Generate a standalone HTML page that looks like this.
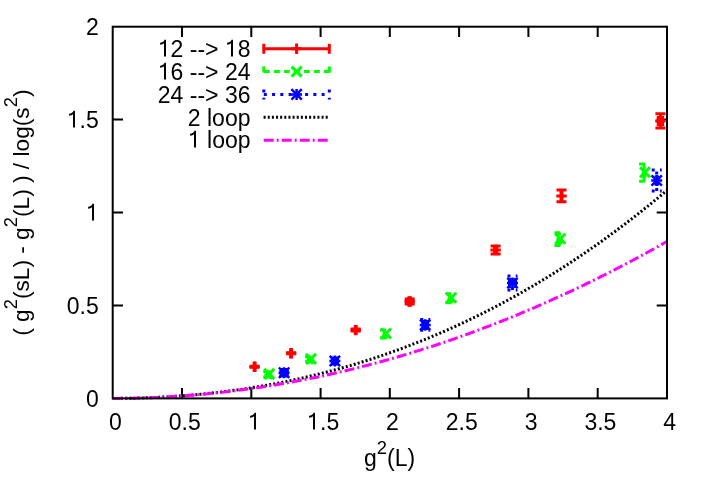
<!DOCTYPE html>
<html><head><meta charset="utf-8"><title>plot</title>
<style>
html,body{margin:0;padding:0;background:#fff;}
body{width:708px;height:495px;overflow:hidden;}
svg{display:block;will-change:transform;}
text{font-family:"Liberation Sans",sans-serif;fill:#000;}
.o{fill:none;}
</style></head><body>
<svg width="708" height="495" viewBox="0 0 708 495">
<rect x="0" y="0" width="708" height="495" fill="#fff"/>

<g stroke="#000" stroke-width="2" fill="none">
<path d="M182.0 398.4V388.1 M182.0 26.7V37.0 M251.3 398.4V388.1 M251.3 26.7V37.0 M320.6 398.4V388.1 M320.6 26.7V37.0 M389.8 398.4V388.1 M389.8 26.7V37.0 M459.1 398.4V388.1 M459.1 26.7V37.0 M528.4 398.4V388.1 M528.4 26.7V37.0 M597.7 398.4V388.1 M597.7 26.7V37.0 M112.7 305.5H123.0 M667.0 305.5H656.7 M112.7 212.5H123.0 M667.0 212.5H656.7 M112.7 119.6H123.0 M667.0 119.6H656.7"/>
</g>
<text x="115.4" y="430" font-size="23" text-anchor="middle">0</text>
<text x="184.7" y="430" font-size="23" text-anchor="middle">0.5</text>
<text x="254.0" y="430" font-size="23" text-anchor="middle"><tspan class="o">1</tspan></text>
<text x="323.3" y="430" font-size="23" text-anchor="middle"><tspan class="o">1</tspan>.5</text>
<text x="392.5" y="430" font-size="23" text-anchor="middle">2</text>
<text x="461.8" y="430" font-size="23" text-anchor="middle">2.5</text>
<text x="531.1" y="430" font-size="23" text-anchor="middle">3</text>
<text x="600.4" y="430" font-size="23" text-anchor="middle">3.5</text>
<text x="669.7" y="430" font-size="23" text-anchor="middle">4</text>
<text x="98.8" y="407" font-size="23" text-anchor="end">0</text>
<text x="98.8" y="314" font-size="23" text-anchor="end">0.5</text>
<text x="98.8" y="221" font-size="23" text-anchor="end"><tspan class="o">1</tspan></text>
<text x="98.8" y="128" font-size="23" text-anchor="end"><tspan class="o">1</tspan>.5</text>
<text x="98.8" y="35" font-size="23" text-anchor="end">2</text>
<text x="364" y="466.2" font-size="23">g<tspan font-size="18.4" dy="-12.4">2</tspan><tspan dy="12.4">(L)</tspan></text>
<text transform="translate(29,212.7) rotate(-90)" font-size="22.7" text-anchor="middle">( g<tspan font-size="18.4" dy="-11.7">2</tspan><tspan dy="11.7">(sL) - g</tspan><tspan font-size="18.4" dy="-11.7">2</tspan><tspan dy="11.7">(L) ) / log(s</tspan><tspan font-size="18.4" dy="-11.7">2</tspan><tspan dy="11.7">)</tspan></text>
<text x="250.5" y="57" font-size="23" text-anchor="end"><tspan class="o">1</tspan>2 --&gt; <tspan class="o">1</tspan>8</text>
<text x="250.5" y="80" font-size="23" text-anchor="end"><tspan class="o">1</tspan>6 --&gt; 24</text>
<text x="250.5" y="103" font-size="23" text-anchor="end">24 --&gt; 36</text>
<text x="250.5" y="126" font-size="23" text-anchor="end">2 loop</text>
<text x="250.5" y="148" font-size="23" text-anchor="end"><tspan class="o">1</tspan> loop</text>
<path d="M263.8 48.8H329.3 M263.8 43.8V53.8 M329.3 43.8V53.8" stroke="#ff0000" stroke-width="3" fill="none"/>
<path d="M291.4 48.8H301.8 M296.6 43.6V54.0" stroke="#ff0000" stroke-width="3" fill="none"/>
<path stroke="#ff0000" stroke-width="3" fill="none" d="M254.6 367.2V366.2 M249.6 367.2H259.6 M249.6 366.2H259.6"/><path stroke="#ff0000" stroke-width="3" fill="none" d="M254.1 366.7H255.1 M254.1 371.7V361.7 M255.1 371.7V361.7"/>
<path d="M249.4 366.7H259.8 M254.6 361.5V371.9" stroke="#ff0000" stroke-width="3" fill="none"/>
<path stroke="#ff0000" stroke-width="3" fill="none" d="M291.1 353.8V352.8 M286.1 353.8H296.1 M286.1 352.8H296.1"/><path stroke="#ff0000" stroke-width="3" fill="none" d="M290.6 353.3H291.6 M290.6 358.3V348.3 M291.6 358.3V348.3"/>
<path d="M285.9 353.3H296.3 M291.1 348.1V358.5" stroke="#ff0000" stroke-width="3" fill="none"/>
<path stroke="#ff0000" stroke-width="3" fill="none" d="M355.7 331.1V329.1 M350.7 331.1H360.7 M350.7 329.1H360.7"/><path stroke="#ff0000" stroke-width="3" fill="none" d="M355.3 330.1H356.1 M355.3 335.1V325.1 M356.1 335.1V325.1"/>
<path d="M350.5 330.1H360.9 M355.7 324.9V335.3" stroke="#ff0000" stroke-width="3" fill="none"/>
<path stroke="#ff0000" stroke-width="3" fill="none" d="M409.7 304.0V299.0 M404.7 304.0H414.7 M404.7 299.0H414.7"/><path stroke="#ff0000" stroke-width="3" fill="none" d="M408.7 301.5H410.7 M408.7 306.5V296.5 M410.7 306.5V296.5"/>
<path d="M404.5 301.5H414.9 M409.7 296.3V306.7" stroke="#ff0000" stroke-width="3" fill="none"/>
<path stroke="#ff0000" stroke-width="3" fill="none" d="M495.6 253.9V245.9 M490.6 253.9H500.6 M490.6 245.9H500.6"/><path stroke="#ff0000" stroke-width="3" fill="none" d="M494.6 249.9H496.6 M494.6 254.9V244.9 M496.6 254.9V244.9"/>
<path d="M490.4 249.9H500.8 M495.6 244.7V255.1" stroke="#ff0000" stroke-width="3" fill="none"/>
<path stroke="#ff0000" stroke-width="3" fill="none" d="M561.5 201.8V190.0 M556.5 201.8H566.5 M556.5 190.0H566.5"/><path stroke="#ff0000" stroke-width="3" fill="none" d="M561.0 195.9H562.0 M561.0 200.9V190.9 M562.0 200.9V190.9"/>
<path d="M556.3 195.9H566.7 M561.5 190.7V201.1" stroke="#ff0000" stroke-width="3" fill="none"/>
<path stroke="#ff0000" stroke-width="3" fill="none" d="M660.4 128.1V113.7 M655.4 128.1H665.4 M655.4 113.7H665.4"/><path stroke="#ff0000" stroke-width="3" fill="none" d="M658.2 120.9H662.6 M658.2 125.9V115.9 M662.6 125.9V115.9"/>
<path d="M655.2 120.9H665.6 M660.4 115.7V126.1" stroke="#ff0000" stroke-width="3" fill="none"/>
<path d="M263.8 71.6H329.3 M263.8 66.6V76.6 M329.3 66.6V76.6" stroke="#00ff00" stroke-width="3" fill="none" stroke-dasharray="6 4"/>
<path d="M291.6 66.6L301.6 76.6 M291.6 76.6L301.6 66.6" stroke="#00ff00" stroke-width="3" fill="none"/>
<path stroke="#00ff00" stroke-width="3" fill="none" stroke-dasharray="6 4" d="M268.3 377.0V371.6 M263.3 377.0H273.3 M263.3 371.6H273.3"/><path stroke="#00ff00" stroke-width="3" fill="none" stroke-dasharray="6 4" d="M265.9 374.3H270.8 M265.9 379.3V369.3 M270.8 379.3V369.3"/>
<path d="M264.2 368.9L274.2 378.9 M264.2 378.9L274.2 368.9" stroke="#00ff00" stroke-width="3" fill="none"/>
<path stroke="#00ff00" stroke-width="3" fill="none" stroke-dasharray="6 4" d="M310.1 361.5V357.1 M305.1 361.5H315.1 M305.1 357.1H315.1"/><path stroke="#00ff00" stroke-width="3" fill="none" stroke-dasharray="6 4" d="M308.1 359.3H312.1 M308.1 364.3V354.3 M312.1 364.3V354.3"/>
<path d="M306.0 353.9L316.0 363.9 M306.0 363.9L316.0 353.9" stroke="#00ff00" stroke-width="3" fill="none"/>
<path stroke="#00ff00" stroke-width="3" fill="none" stroke-dasharray="6 4" d="M385.1 337.9V329.9 M380.1 337.9H390.1 M380.1 329.9H390.1"/><path stroke="#00ff00" stroke-width="3" fill="none" stroke-dasharray="6 4" d="M384.1 333.9H386.1 M384.1 338.9V328.9 M386.1 338.9V328.9"/>
<path d="M381.0 328.5L391.0 338.5 M381.0 338.5L391.0 328.5" stroke="#00ff00" stroke-width="3" fill="none"/>
<path stroke="#00ff00" stroke-width="3" fill="none" stroke-dasharray="6 4" d="M450.3 302.7V293.7 M445.3 302.7H455.3 M445.3 293.7H455.3"/><path stroke="#00ff00" stroke-width="3" fill="none" stroke-dasharray="6 4" d="M449.1 298.2H451.5 M449.1 303.2V293.2 M451.5 303.2V293.2"/>
<path d="M446.2 292.8L456.2 302.8 M446.2 302.8L456.2 292.8" stroke="#00ff00" stroke-width="3" fill="none"/>
<path stroke="#00ff00" stroke-width="3" fill="none" stroke-dasharray="6 4" d="M559.4 245.5V232.7 M554.4 245.5H564.4 M554.4 232.7H564.4"/><path stroke="#00ff00" stroke-width="3" fill="none" stroke-dasharray="6 4" d="M557.9 239.1H560.9 M557.9 244.1V234.1 M560.9 244.1V234.1"/>
<path d="M555.3 233.7L565.3 243.7 M555.3 243.7L565.3 233.7" stroke="#00ff00" stroke-width="3" fill="none"/>
<path stroke="#00ff00" stroke-width="3" fill="none" stroke-dasharray="6 4" d="M644.1 181.2V164.0 M639.1 181.2H649.1 M639.1 164.0H649.1"/><path stroke="#00ff00" stroke-width="3" fill="none" stroke-dasharray="6 4" d="M643.3 172.6H644.9 M643.3 177.6V167.6 M644.9 177.6V167.6"/>
<path d="M640.0 167.2L650.0 177.2 M640.0 177.2L650.0 167.2" stroke="#00ff00" stroke-width="3" fill="none"/>
<path d="M263.8 94.4H329.3 M263.8 89.4V99.4 M329.3 89.4V99.4" stroke="#0000ff" stroke-width="3" fill="none" stroke-dasharray="3 5.26"/>
<path d="M291.1 94.4H302.1 M296.6 88.9V99.9" stroke="#0000ff" stroke-width="2.5" fill="none"/><path d="M291.4 89.2L301.8 99.6 M291.4 99.6L301.8 89.2" stroke="#0000ff" stroke-width="2.4" fill="none"/>
<path stroke="#0000ff" stroke-width="3" fill="none" d="M284.1 375.9V369.5 M280.1 375.9H288.1 M280.1 369.5H288.1"/><path stroke="#0000ff" stroke-width="3" fill="none" d="M280.9 372.7H287.3 M280.9 376.7V368.7 M287.3 376.7V368.7"/>
<path d="M278.6 372.7H289.6 M284.1 367.2V378.2" stroke="#0000ff" stroke-width="2.5" fill="none"/><path d="M278.9 367.5L289.3 377.9 M278.9 377.9L289.3 367.5" stroke="#0000ff" stroke-width="2.4" fill="none"/>
<path stroke="#0000ff" stroke-width="3" fill="none" d="M334.9 364.0V358.0 M330.9 364.0H338.9 M330.9 358.0H338.9"/><path stroke="#0000ff" stroke-width="3" fill="none" d="M332.3 361.0H337.5 M332.3 365.0V357.0 M337.5 365.0V357.0"/>
<path d="M329.4 361.0H340.4 M334.9 355.5V366.5" stroke="#0000ff" stroke-width="2.5" fill="none"/><path d="M329.7 355.8L340.1 366.2 M329.7 366.2L340.1 355.8" stroke="#0000ff" stroke-width="2.4" fill="none"/>
<path stroke="#0000ff" stroke-width="3" fill="none" stroke-dasharray="3 5.26" d="M425.2 330.3V319.5 M420.2 330.3H430.2 M420.2 319.5H430.2"/><path stroke="#0000ff" stroke-width="3" fill="none" d="M422.8 324.9H427.6 M422.8 329.9V319.9 M427.6 329.9V319.9"/>
<path d="M419.7 324.9H430.7 M425.2 319.4V330.4" stroke="#0000ff" stroke-width="2.5" fill="none"/><path d="M420.0 319.7L430.4 330.1 M420.0 330.1L430.4 319.7" stroke="#0000ff" stroke-width="2.4" fill="none"/>
<path stroke="#0000ff" stroke-width="3" fill="none" stroke-dasharray="3 5.26" d="M512.5 289.9V276.1 M507.5 289.9H517.5 M507.5 276.1H517.5"/><path stroke="#0000ff" stroke-width="3" fill="none" d="M509.5 283.0H515.5 M509.5 288.0V278.0 M515.5 288.0V278.0"/>
<path d="M507.0 283.0H518.0 M512.5 277.5V288.5" stroke="#0000ff" stroke-width="2.5" fill="none"/><path d="M507.3 277.8L517.7 288.2 M507.3 288.2L517.7 277.8" stroke="#0000ff" stroke-width="2.4" fill="none"/>
<path stroke="#0000ff" stroke-width="3" fill="none" stroke-dasharray="3 5.26" d="M656.7 191.0V170.0 M651.7 191.0H661.7 M651.7 170.0H661.7"/><path stroke="#0000ff" stroke-width="3" fill="none" stroke-dasharray="3 5.26" d="M655.9 180.5H657.5 M655.9 185.5V175.5 M657.5 185.5V175.5"/>
<path d="M651.2 180.5H662.2 M656.7 175.0V186.0" stroke="#0000ff" stroke-width="2.5" fill="none"/><path d="M651.5 175.3L661.9 185.7 M651.5 185.7L661.9 175.3" stroke="#0000ff" stroke-width="2.4" fill="none"/>
<path d="M263.6 117.3H328.0" stroke="#000" stroke-width="3" stroke-dasharray="2 2.14"/>
<polyline points="112.70,398.40 115.47,398.40 118.24,398.38 121.01,398.36 123.79,398.34 126.56,398.30 129.33,398.26 132.10,398.21 134.87,398.15 137.64,398.08 140.41,398.00 143.19,397.92 145.96,397.82 148.73,397.72 151.50,397.61 154.27,397.50 157.04,397.37 159.82,397.23 162.59,397.09 165.36,396.94 168.13,396.78 170.90,396.61 173.67,396.43 176.44,396.25 179.22,396.05 181.99,395.85 184.76,395.64 187.53,395.41 190.30,395.18 193.07,394.94 195.84,394.70 198.62,394.44 201.39,394.17 204.16,393.90 206.93,393.61 209.70,393.32 212.47,393.02 215.25,392.71 218.02,392.38 220.79,392.05 223.56,391.71 226.33,391.36 229.10,391.01 231.87,390.64 234.65,390.26 237.42,389.87 240.19,389.48 242.96,389.07 245.73,388.65 248.50,388.23 251.27,387.79 254.05,387.35 256.82,386.89 259.59,386.43 262.36,385.95 265.13,385.47 267.90,384.97 270.68,384.47 273.45,383.96 276.22,383.43 278.99,382.90 281.76,382.35 284.53,381.80 287.30,381.23 290.08,380.66 292.85,380.07 295.62,379.47 298.39,378.87 301.16,378.25 303.93,377.62 306.70,376.98 309.48,376.34 312.25,375.68 315.02,375.01 317.79,374.33 320.56,373.64 323.33,372.93 326.11,372.22 328.88,371.50 331.65,370.76 334.42,370.02 337.19,369.26 339.96,368.50 342.73,367.72 345.51,366.93 348.28,366.13 351.05,365.32 353.82,364.50 356.59,363.66 359.36,362.82 362.13,361.96 364.91,361.10 367.68,360.22 370.45,359.33 373.22,358.43 375.99,357.51 378.76,356.59 381.54,355.65 384.31,354.71 387.08,353.75 389.85,352.78 392.62,351.80 395.39,350.80 398.16,349.80 400.94,348.78 403.71,347.75 406.48,346.71 409.25,345.65 412.02,344.59 414.79,343.51 417.56,342.42 420.34,341.32 423.11,340.21 425.88,339.08 428.65,337.95 431.42,336.80 434.19,335.63 436.97,334.46 439.74,333.27 442.51,332.07 445.28,330.86 448.05,329.64 450.82,328.40 453.59,327.15 456.37,325.89 459.14,324.62 461.91,323.33 464.68,322.03 467.45,320.72 470.22,319.39 472.99,318.06 475.77,316.71 478.54,315.34 481.31,313.97 484.08,312.58 486.85,311.17 489.62,309.76 492.40,308.33 495.17,306.89 497.94,305.44 500.71,303.97 503.48,302.49 506.25,300.99 509.02,299.49 511.80,297.96 514.57,296.43 517.34,294.88 520.11,293.32 522.88,291.75 525.65,290.16 528.42,288.56 531.20,286.94 533.97,285.31 536.74,283.67 539.51,282.01 542.28,280.34 545.05,278.66 547.83,276.96 550.60,275.25 553.37,273.53 556.14,271.79 558.91,270.03 561.68,268.27 564.45,266.48 567.23,264.69 570.00,262.88 572.77,261.06 575.54,259.22 578.31,257.37 581.08,255.50 583.86,253.62 586.63,251.72 589.40,249.81 592.17,247.89 594.94,245.95 597.71,244.00 600.48,242.03 603.26,240.05 606.03,238.05 608.80,236.04 611.57,234.01 614.34,231.97 617.11,229.92 619.88,227.84 622.66,225.76 625.43,223.66 628.20,221.54 630.97,219.41 633.74,217.27 636.51,215.11 639.28,212.93 642.06,210.74 644.83,208.53 647.60,206.31 650.37,204.08 653.14,201.83 655.91,199.56 658.69,197.28 661.46,194.98 664.23,192.67 667.00,190.34" fill="none" stroke="#000" stroke-width="3" stroke-dasharray="2 2.14"/>
<path d="M263.7 140.3H330.5" stroke="#ff00ff" stroke-width="3" stroke-dasharray="10 3 2 3"/>
<polyline points="112.70,398.40 115.47,398.40 118.24,398.38 121.01,398.36 123.79,398.34 126.56,398.30 129.33,398.26 132.10,398.21 134.87,398.15 137.64,398.08 140.41,398.01 143.19,397.93 145.96,397.84 148.73,397.74 151.50,397.63 154.27,397.52 157.04,397.40 159.82,397.27 162.59,397.13 165.36,396.98 168.13,396.83 170.90,396.67 173.67,396.50 176.44,396.32 179.22,396.14 181.99,395.95 184.76,395.75 187.53,395.54 190.30,395.32 193.07,395.10 195.84,394.87 198.62,394.63 201.39,394.38 204.16,394.13 206.93,393.87 209.70,393.59 212.47,393.32 215.25,393.03 218.02,392.74 220.79,392.43 223.56,392.12 226.33,391.81 229.10,391.48 231.87,391.15 234.65,390.81 237.42,390.46 240.19,390.10 242.96,389.73 245.73,389.36 248.50,388.98 251.27,388.59 254.05,388.20 256.82,387.79 259.59,387.38 262.36,386.96 265.13,386.53 267.90,386.10 270.68,385.65 273.45,385.20 276.22,384.74 278.99,384.28 281.76,383.80 284.53,383.32 287.30,382.83 290.08,382.33 292.85,381.83 295.62,381.31 298.39,380.79 301.16,380.26 303.93,379.72 306.70,379.18 309.48,378.62 312.25,378.06 315.02,377.49 317.79,376.92 320.56,376.33 323.33,375.74 326.11,375.14 328.88,374.53 331.65,373.92 334.42,373.29 337.19,372.66 339.96,372.02 342.73,371.37 345.51,370.72 348.28,370.06 351.05,369.39 353.82,368.71 356.59,368.02 359.36,367.33 362.13,366.62 364.91,365.91 367.68,365.20 370.45,364.47 373.22,363.74 375.99,363.00 378.76,362.25 381.54,361.49 384.31,360.72 387.08,359.95 389.85,359.17 392.62,358.38 395.39,357.59 398.16,356.78 400.94,355.97 403.71,355.15 406.48,354.32 409.25,353.49 412.02,352.64 414.79,351.79 417.56,350.93 420.34,350.07 423.11,349.19 425.88,348.31 428.65,347.42 431.42,346.52 434.19,345.61 436.97,344.70 439.74,343.78 442.51,342.85 445.28,341.91 448.05,340.96 450.82,340.01 453.59,339.05 456.37,338.08 459.14,337.10 461.91,336.12 464.68,335.13 467.45,334.13 470.22,333.12 472.99,332.10 475.77,331.08 478.54,330.05 481.31,329.01 484.08,327.96 486.85,326.90 489.62,325.84 492.40,324.77 495.17,323.69 497.94,322.61 500.71,321.51 503.48,320.41 506.25,319.30 509.02,318.18 511.80,317.05 514.57,315.92 517.34,314.78 520.11,313.63 522.88,312.47 525.65,311.31 528.42,310.13 531.20,308.95 533.97,307.76 536.74,306.57 539.51,305.36 542.28,304.15 545.05,302.93 547.83,301.70 550.60,300.47 553.37,299.22 556.14,297.97 558.91,296.71 561.68,295.45 564.45,294.17 567.23,292.89 570.00,291.60 572.77,290.30 575.54,288.99 578.31,287.68 581.08,286.36 583.86,285.03 586.63,283.69 589.40,282.34 592.17,280.99 594.94,279.63 597.71,278.26 600.48,276.88 603.26,275.50 606.03,274.11 608.80,272.71 611.57,271.30 614.34,269.88 617.11,268.46 619.88,267.03 622.66,265.59 625.43,264.14 628.20,262.68 630.97,261.22 633.74,259.75 636.51,258.27 639.28,256.78 642.06,255.29 644.83,253.79 647.60,252.28 650.37,250.76 653.14,249.23 655.91,247.70 658.69,246.16 661.46,244.61 664.23,243.05 667.00,241.48" fill="none" stroke="#ff00ff" stroke-width="3" stroke-dasharray="10 3 2 3"/>
<rect x="112.7" y="26.7" width="554.3" height="371.7" fill="none" stroke="#000" stroke-width="2"/>
<path transform="translate(254.00 429.60)" d="M2 0V-16.9H0.5C0.1 -15.2 -1.6 -14 -3.9 -13.8V-11.9C-2.2 -12 -0.8 -12.6 0 -13.4V0Z" fill="#000"/>
<path transform="translate(313.00 429.60)" d="M2 0V-16.9H0.5C0.1 -15.2 -1.6 -14 -3.9 -13.8V-11.9C-2.2 -12 -0.8 -12.6 0 -13.4V0Z" fill="#000"/>
<path transform="translate(92.00 220.60)" d="M2 0V-16.9H0.5C0.1 -15.2 -1.6 -14 -3.9 -13.8V-11.9C-2.2 -12 -0.8 -12.6 0 -13.4V0Z" fill="#000"/>
<path transform="translate(73.00 127.60)" d="M2 0V-16.9H0.5C0.1 -15.2 -1.6 -14 -3.9 -13.8V-11.9C-2.2 -12 -0.8 -12.6 0 -13.4V0Z" fill="#000"/>
<path transform="translate(164.00 56.60)" d="M2 0V-16.9H0.5C0.1 -15.2 -1.6 -14 -3.9 -13.8V-11.9C-2.2 -12 -0.8 -12.6 0 -13.4V0Z" fill="#000"/>
<path transform="translate(231.00 56.60)" d="M2 0V-16.9H0.5C0.1 -15.2 -1.6 -14 -3.9 -13.8V-11.9C-2.2 -12 -0.8 -12.6 0 -13.4V0Z" fill="#000"/>
<path transform="translate(164.00 79.60)" d="M2 0V-16.9H0.5C0.1 -15.2 -1.6 -14 -3.9 -13.8V-11.9C-2.2 -12 -0.8 -12.6 0 -13.4V0Z" fill="#000"/>
<path transform="translate(194.00 147.60)" d="M2 0V-16.9H0.5C0.1 -15.2 -1.6 -14 -3.9 -13.8V-11.9C-2.2 -12 -0.8 -12.6 0 -13.4V0Z" fill="#000"/>
</svg></body></html>
